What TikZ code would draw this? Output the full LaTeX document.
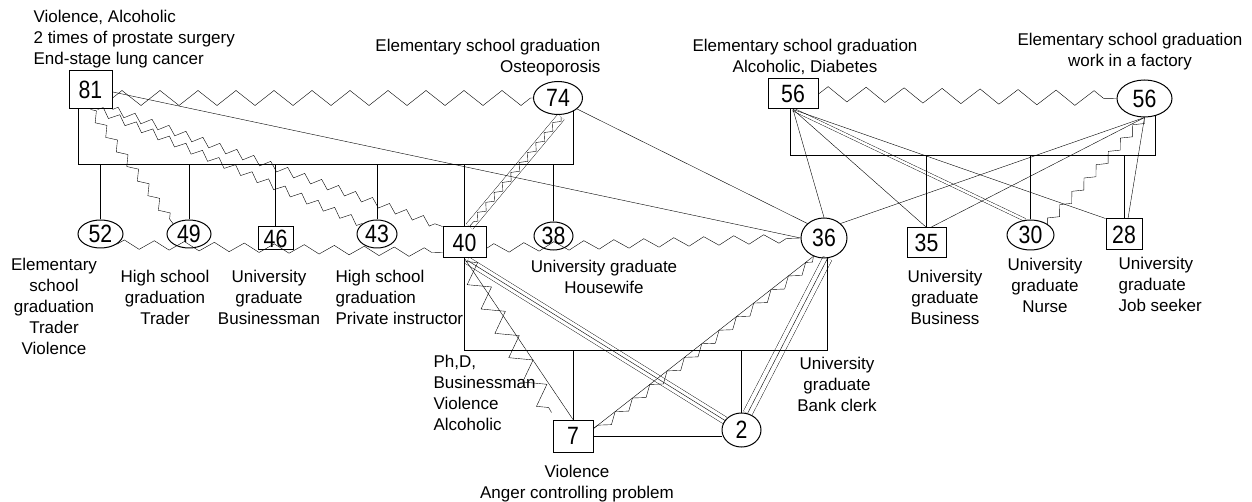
\documentclass[tikz,border=0pt]{standalone}
\usepackage{fontspec}
\setmainfont{Liberation Sans}
\newfontfamily\numfont[FakeStretch=0.85]{Liberation Sans}
\usetikzlibrary{shapes.geometric,decorations.pathmorphing,calc}
\pgfdeclarelayer{bg}
\pgfsetlayers{bg,main}
\begin{document}
\begin{tikzpicture}[x=1pt,y=-1pt,line width=1.2pt,
  lbl/.style={font=\fontsize{17}{21}\selectfont,inner sep=0pt,align=center},
  pm/.style={draw,rectangle,line width=1pt,inner sep=0pt,font=\numfont\fontsize{25}{25}\selectfont},
  pf/.style={draw,ellipse,line width=1pt,inner sep=0pt,font=\numfont\fontsize{25}{25}\selectfont},
  zigbig/.style={decorate,decoration={zigzag,amplitude=7.5pt,segment length=38pt}},
  zigsm/.style={decorate,decoration={zigzag,amplitude=4pt,segment length=18pt}},
  zigmid/.style={decorate,decoration={zigzag,amplitude=4.5pt,segment length=30pt}},
  zigbold/.style={decorate,decoration={zigzag,amplitude=10pt,segment length=28pt}},
  zigin/.style={decorate,decoration={zigzag,amplitude=3pt,segment length=13pt}},
  sawline/.style={decorate,decoration={zigzag,amplitude=4pt,segment length=22pt,raise=-4pt}}
]
\useasboundingbox (0,0) rectangle (1252,502);

% persons
\node[pm,minimum width=43pt,minimum height=38pt] (n81) at (90.5,90) {81};
\node[pf,minimum width=49pt,minimum height=33pt] (n74) at (558,98) {74};
\node[pm,minimum width=50pt,minimum height=30pt] (n56m) at (793,94) {56};
\node[pf,minimum width=55pt,minimum height=37pt] (n56f) at (1144.5,98.5) {56};
\node[pf,minimum width=45pt,minimum height=28pt] (n52) at (100.5,234) {52};
\node[pf,minimum width=44pt,minimum height=28pt] (n49) at (189,234) {49};
\node[pm,minimum width=35pt,minimum height=23pt] (n46) at (275.5,238.5) {46};
\node[pf,minimum width=40pt,minimum height=28pt] (n43) at (377,234) {43};
\node[pm,minimum width=43pt,minimum height=31pt] (n40) at (464.5,242.5) {40};
\node[pf,minimum width=39pt,minimum height=28pt] (n38) at (553.5,236) {38};
\node[pf,minimum width=46pt,minimum height=40pt] (n36) at (824,238) {36};
\node[pm,minimum width=39pt,minimum height=30pt] (n35) at (926.5,243) {35};
\node[pf,minimum width=47pt,minimum height=30pt] (n30) at (1030.5,235) {30};
\node[pm,minimum width=36pt,minimum height=31pt] (n28) at (1124,234.5) {28};
\node[pm,minimum width=40pt,minimum height=32pt] (n7) at (573,436) {7};
\node[pf,minimum width=39pt,minimum height=34pt] (n2) at (741.5,430) {2};

% labels
\node[lbl,anchor=north west,align=left] (t81) at (33,10) {Violence, Alcoholic\\2 times of prostate surgery\\End-stage lung cancer};
\node[lbl,anchor=north east,align=right] (t74) at (601,39) {Elementary school graduation\\Osteoporosis};
\node[lbl,anchor=north] (t56m) at (805,39) {Elementary school graduation\\Alcoholic, Diabetes};
\node[lbl,anchor=north] (t56f) at (1130,33) {Elementary school graduation\\work in a factory};
\node[lbl,anchor=north] (t52) at (54,258) {Elementary\\school\\graduation\\Trader\\Violence};
\node[lbl,anchor=north] (t49) at (165,270) {High school\\graduation\\Trader};
\node[lbl,anchor=north] (t46) at (269,270) {University\\graduate\\Businessman};
\node[lbl,anchor=north west,align=left] (t43) at (335,270) {High school\\graduation\\Private instructor};
\node[lbl,anchor=north] (t38) at (604,260) {University graduate\\Housewife};
\node[lbl,anchor=north west,align=left] (t40) at (433,355) {Ph,D,\\Businessman\\Violence\\Alcoholic};
\node[lbl,anchor=north] (t36) at (837,357) {University\\graduate\\Bank clerk};
\node[lbl,anchor=north] (t7) at (577,465) {Violence\\Anger controlling problem};
\node[lbl,anchor=north] (t35) at (945,270) {University\\graduate\\Business};
\node[lbl,anchor=north] (t30) at (1045,258) {University\\graduate\\Nurse};
\node[lbl,anchor=north west,align=left] (t28) at (1118,257) {University\\graduate\\Job seeker};

% fused (multi-line) relations on background layer
\begin{pgfonlayer}{bg}
\draw[double distance=8pt] ($(n74.south)+(3,2)$) -- ($(n40.north)+(5,0)$);
\draw[double distance=7pt] ($(n40.south)+(3,2)$) -- (n2.150);
\draw ($(n40.south)+(3,2)$) -- (n2.150);
\draw[double distance=9pt] (n36.-80) -- (n2.70);
\draw (n36.-80) -- (n2.70);
\draw[double distance=2.5pt] (n56m.south) -- (n30.110);
\end{pgfonlayer}
\draw[zigin] ($(n74.south)+(3,2)$) -- ($(n40.north)+(5,0)$);

% family 1
\coordinate (b1L) at (78,164);
\coordinate (b1R) at (573,164);
\draw (n81.south -| b1L) -- (b1L) -- (b1R) -- (b1R |- n74.south east);
\foreach \c in {n52,n49,n46,n43,n40,n38} \draw (\c.north) -- (\c.north |- b1L);

% family 2
\coordinate (b2L) at (790,155);
\coordinate (b2R) at (1155,155);
\draw (n56m.south -| b2L) -- (b2L) -- (b2R) -- (b2R |- n56f.-60);
\foreach \c in {n35,n30,n28} \draw (\c.north) -- (\c.north |- b2L);

% family 3
\coordinate (b3) at (600,350);
\draw (n40.south) -- (n40.south |- b3) -- (n36.-80 |- b3) -- (n36.-80);
\foreach \c in {n7,n2} \draw (\c.north) -- (\c.north |- b3);

% relations
\draw[zigbig] (n81.east |- n74.west) -- (n74.west);
\draw[zigbig] (n56m.east) -- (n56f.west);
\draw (n81.-5) -- (n36.west);
\draw[zigsm] (n81.south) -- (n49.north west);
\draw[zigsm] (n81.-70) -- (n43.north west);
\draw[zigsm] (n81.south east) -- (n40.north west);
\draw (n74.-30) -- (n36.north west);
\draw[zigmid] (n40.-15) -- (n36.west);
\draw[zigmid] (n52.south east) -- (n40.205);
\coordinate (z7) at ($(n7.north west)+(-1,-7)$);
\draw (n40.south) -- (n7.north);
\draw[zigbold] ($(n40.south)+(1,3)$) -- (z7);
\draw (n7.20) -- (n36.-120);
\draw[sawline] (n7.20) -- (n36.-120);
\draw (n7.east) -- (n7.east -| n2.west);
\draw (n56m.south) -- (n36.north);
\draw (n56m.south) -- (n35.north);
\draw (n56m.south) -- (n28.north west);
\draw (n56f.south) -- (n36.north east);
\draw (n56f.south) -- ($(n35.north)+(4,0)$);
\draw (n56f.south) -- ($(n28.north)+(4,0)$);
\draw[zigsm] (n56f.south) -- (n30.north east);
\end{tikzpicture}
\end{document}
